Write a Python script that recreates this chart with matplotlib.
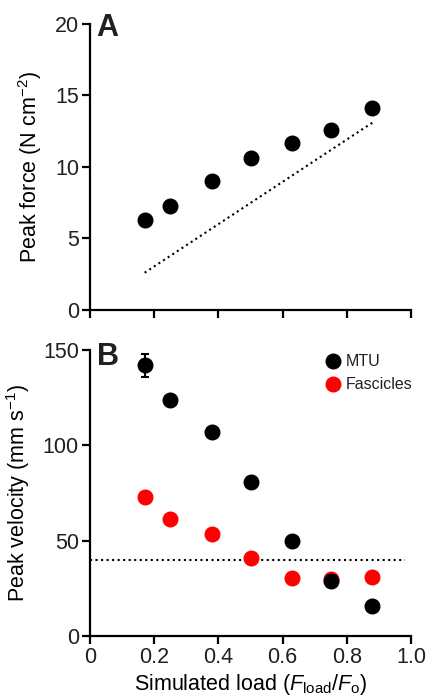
import matplotlib
matplotlib.use("Agg")
import matplotlib.pyplot as plt

plt.rcParams['font.family'] = ['Liberation Sans', 'DejaVu Sans']
plt.rcParams['mathtext.fontset'] = 'custom'
plt.rcParams['mathtext.rm'] = 'Liberation Sans'
plt.rcParams['mathtext.it'] = 'Liberation Sans:italic'
plt.rcParams['mathtext.bf'] = 'Liberation Sans:bold'
plt.rcParams['text.color'] = '#231f20'
plt.rcParams['xtick.labelcolor'] = '#231f20'
plt.rcParams['ytick.labelcolor'] = '#231f20'

# data
load = [0.17, 0.25, 0.38, 0.50, 0.63, 0.75, 0.88]
peak_force = [6.3, 7.3, 9.0, 10.6, 11.7, 12.6, 14.1]
force_line_x = [0.17, 0.88]
force_line_y = [2.6, 13.1]

mtu_vel = [142, 124, 107, 81, 50, 29, 16]
mtu_err = [6, 0, 0, 0, 0, 0, 0]
fasc_vel = [72.7, 61.3, 53.5, 40.7, 30.2, 29.7, 31.1]
vel_line_x = [0.0, 0.98]
vel_line_y = [40, 40]

fig = plt.figure(figsize=(4.27, 6.98), dpi=100)
axA = fig.add_axes([0.211, 0.556, 0.7515, 0.4097])
axB = fig.add_axes([0.211, 0.0888, 0.7515, 0.4098])

ms = 10.5
fs = 15.5

for ax in (axA, axB):
    for s in ('top', 'right'):
        ax.spines[s].set_visible(False)
    for s in ('left', 'bottom'):
        ax.spines[s].set_linewidth(1.6)
    ax.tick_params(width=1.6, length=6, labelsize=fs, pad=2)
    ax.set_xlim(0, 1.0)
    ax.set_xticks([0, 0.2, 0.4, 0.6, 0.8, 1.0])

# Panel A
axA.plot(force_line_x, force_line_y, ls=':', color='black', lw=1.5)
axA.plot(load, peak_force, 'o', color='black', ms=ms, clip_on=False)
axA.set_ylim(0, 20)
axA.set_yticks([0, 5, 10, 15, 20])
axA.tick_params(axis='x', labelbottom=False)
axA.set_ylabel('Peak force (N cm$^{\u22122}$)', fontsize=fs, labelpad=8)
fig.text(0.226, 0.982, 'A', fontsize=22, fontweight='bold', va='top', ha='left')

# Panel B
axB.plot(vel_line_x, vel_line_y, ls=':', color='black', lw=1.5)
fasc_h, = axB.plot(load, fasc_vel, 'o', color='#ff0000', ms=ms, clip_on=False)
axB.errorbar(load, mtu_vel, yerr=mtu_err, fmt='none', ecolor='black',
             capsize=3, elinewidth=1.5, capthick=1.5)
mtu_h, = axB.plot(load, mtu_vel, 'o', color='black', ms=ms, clip_on=False)
axB.set_ylim(0, 150)
axB.set_yticks([0, 50, 100, 150])
axB.set_xticklabels(['0', '0.2', '0.4', '0.6', '0.8', '1.0'])
axB.set_ylabel('Peak velocity (mm s$^{\u22121}$)', fontsize=fs, labelpad=8)
axB.set_xlabel('Simulated load ($F_{\\mathrm{load}}$/$F_{\\mathrm{o}}$)', fontsize=fs, labelpad=3)
axB.legend([mtu_h, fasc_h], ['MTU', 'Fascicles'], loc='upper right', frameon=False,
           fontsize=11.5, handletextpad=0.2, handlelength=1.2, labelspacing=0.5,
           bbox_to_anchor=(1.05, 1.035))
fig.text(0.226, 0.51, 'B', fontsize=22, fontweight='bold', va='top', ha='left')

fig.savefig('out.png', dpi=100)
